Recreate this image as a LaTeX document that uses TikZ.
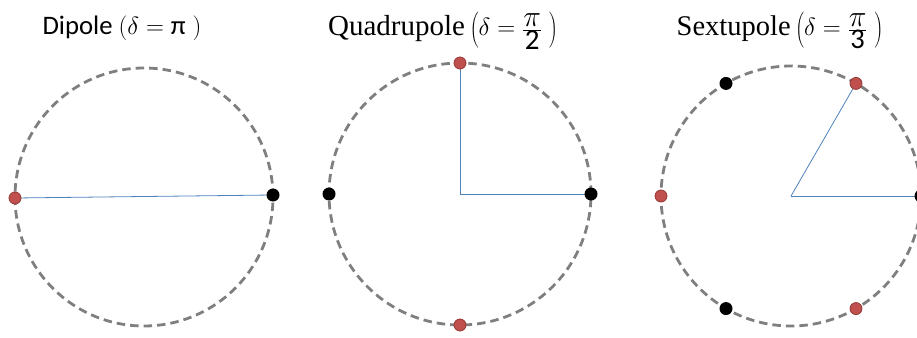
\documentclass[tikz,border=0pt]{standalone}
\usepackage{fontspec}
\setmainfont{Liberation Serif}
\newfontfamily\carl{Carlito}
\usetikzlibrary{calc,backgrounds}
\definecolor{ringgray}{HTML}{7F7F7F}
\definecolor{dotred}{HTML}{C0504D}
\definecolor{dotredborder}{HTML}{943634}
\definecolor{spokeblue}{HTML}{4F81BD}
\newcommand{\bigpi}{\mbox{\scalebox{1.2}{$\pi$}}}
\begin{document}
\begin{tikzpicture}[x=1pt,y=-1pt,
  ring/.style={draw=ringgray, line width=2.8pt, dash pattern=on 8.5pt off 5pt},
  reddot/.style={circle, fill=dotred, draw=dotredborder, line width=0.8pt, inner sep=0pt, minimum size=12pt},
  blackdot/.style={circle, fill=black, inner sep=0pt, minimum size=13pt},
  spoke/.style={draw=spokeblue, line width=0.8pt},
  title/.style={anchor=base, inner sep=0pt}]
\useasboundingbox (0,0) rectangle (917,337);
% centres
\coordinate (c1) at (144,197);
\coordinate (c2) at (460,194);
\coordinate (c3) at (791,196);
% rings
\draw[ring] (c1) circle[radius=129pt];
\draw[ring] (c2) circle[radius=131pt];
\draw[ring] (c3) circle[radius=130pt];
% dots
\node[reddot] (d1l) at (15,198) {};
\node[blackdot] (d1r) at (273,195) {};
\node[reddot] (d2t) at ($(c2)+(90:131pt)$) {};
\node[reddot] (d2b) at ($(c2)+(270:131pt)$) {};
\node[blackdot] (d2l) at ($(c2)+(180:131pt)$) {};
\node[blackdot] (d2r) at ($(c2)+(0:131pt)$) {};
\node[blackdot] (d3a) at ($(c3)+(0:130pt)$) {};
\node[reddot] (d3b) at ($(c3)+(60:130pt)$) {};
\node[blackdot] (d3c) at ($(c3)+(120:130pt)$) {};
\node[reddot] (d3d) at ($(c3)+(180:130pt)$) {};
\node[blackdot] (d3e) at ($(c3)+(240:130pt)$) {};
\node[reddot] (d3f) at ($(c3)+(300:130pt)$) {};
% spokes (behind the dots)
\begin{pgfonlayer}{background}
\draw[spoke] (d1l.center) -- (d1r.center);
\draw[spoke] (c2) -- (d2t.center);
\draw[spoke] (c2) -- (d2r.center);
\draw[spoke] (c3) -- (d3b.center);
\draw[spoke] (c3) -- (d3a.center);
\end{pgfonlayer}
% titles
\node[title, font=\carl\fontsize{26.7}{30}\selectfont] (t1) at (122,35) {Dipole $\bigl(\delta = \mbox{π}\;\bigr)$};
\node[title, font=\fontsize{29}{34}\selectfont] (t2) at (443,36) {Quadrupole\,$\left(\delta = \frac{\bigpi}{\mbox{\carl 2}}\;\right)$};
\node[title, font=\fontsize{28.5}{34}\selectfont] (t3) at (780,36) {Sextupole\,$\left(\delta = \frac{\bigpi}{\mbox{\carl 3}}\;\right)$};
\end{tikzpicture}
\end{document}
